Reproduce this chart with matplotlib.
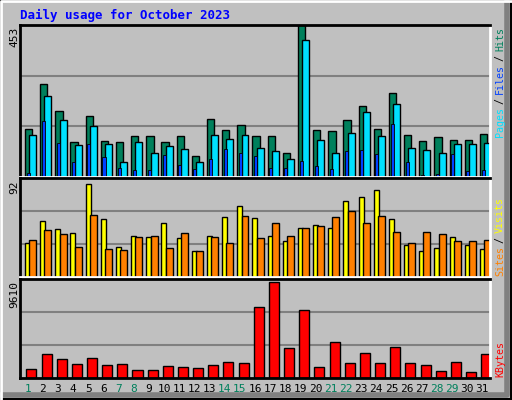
import matplotlib
matplotlib.use("Agg")
import matplotlib.pyplot as plt
import numpy as np

days = list(range(1, 32))
weekend = [1, 7, 8, 14, 15, 21, 22, 28, 29]

hits = [144, 278, 198, 105, 183, 108, 103, 123, 123, 105, 123, 64, 174, 141, 156, 123,
        123, 73, 453, 141, 138, 171, 213, 144, 249, 126, 108, 120, 111, 111, 129]
files = [126, 240, 171, 94, 153, 97, 46, 103, 73, 91, 82, 46, 126, 114, 126, 85,
         76, 55, 409, 111, 73, 132, 195, 123, 219, 85, 79, 73, 97, 97, 100]
pages = [11, 168, 100, 46, 97, 61, 28, 22, 22, 67, 37, 25, 55, 82, 73, 64,
         28, 28, 49, 34, 25, 76, 79, 70, 159, 46, 7, 10, 70, 19, 22]
visits = [32, 52, 45, 41, 86, 54, 28, 38, 37, 50, 36, 24, 38, 56, 66, 55,
          38, 33, 46, 48, 46, 71, 74, 81, 54, 30, 24, 27, 37, 30, 26]
sites = [34, 44, 40, 28, 58, 26, 25, 37, 38, 27, 41, 24, 37, 32, 57, 36,
         50, 38, 46, 47, 56, 61, 50, 57, 42, 32, 42, 40, 33, 33, 34]
kbytes = [950, 2420, 1930, 1440, 2030, 1340, 1440, 850, 850, 1240, 1140, 1050, 1340, 1640, 1540, 7130,
          9610, 3010, 6830, 1140, 3600, 1540, 2520, 1540, 3110, 1540, 1340, 750, 1640, 560, 2420]

W, H = 512, 400
BG = "#c0c0c0"
mono = "DejaVu Sans Mono"

fig = plt.figure(figsize=(W / 100, H / 100), dpi=100, facecolor=BG)

# outer frame
fa = fig.add_axes([0, 0, 1, 1])
fa.set_xlim(0, W); fa.set_ylim(H, 0); fa.axis("off")
fa.plot([1, W - 5, W - 5], [H - 5, H - 5, 1], color="#808080", lw=4)
fa.plot([1, 1, W - 1], [H - 1, 1, 1], color="white", lw=2)
fa.add_patch(plt.Rectangle((0, 0), W - 1, H - 1, fill=False, ec="black", lw=1.5))

def panel(top, bot):
    ax = fig.add_axes([20 / W, 1 - bot / H, 470 / W, (bot - top) / H])
    ax.set_facecolor(BG)
    ax.set_xlim(0, 31)
    ax.set_xticks([]); ax.set_yticks([])
    for s in ("left", "top"):
        ax.spines[s].set_color("black"); ax.spines[s].set_linewidth(2)
    for s in ("right", "bottom"):
        ax.spines[s].set_color("white"); ax.spines[s].set_linewidth(2)
    return ax

x = np.arange(31)

ax1 = panel(25, 177)
ax1.set_ylim(0, 453)
for g in (151, 302):
    ax1.axhline(g, color="#808080", lw=1.5, zorder=0)
ax1.bar(x + 0.33, hits, width=0.48, align="edge", color="#00805c", ec="black", lw=1)
ax1.bar(x + 0.61, files, width=0.46, align="edge", color="#00e0ff", ec="black", lw=1)
ax1.bar(x + 0.44, pages, width=0.2, align="edge", color="#0040ff", ec="black", lw=0.6)

ax2 = panel(178, 277)
ax2.set_ylim(0, 92)
for g in (30.7, 61.3):
    ax2.axhline(g, color="#808080", lw=1.5, zorder=0)
ax2.bar(x + 0.33, visits, width=0.33, align="edge", color="#ffff00", ec="black", lw=1)
ax2.bar(x + 0.61, sites, width=0.46, align="edge", color="#ff8000", ec="black", lw=1)

ax3 = panel(279, 378)
ax3.set_ylim(0, 9900)
for g in (3300, 6600):
    ax3.axhline(g, color="#808080", lw=1.5, zorder=0)
ax3.bar(x + 0.42, kbytes, width=0.66, align="edge", color="#ff0000", ec="black", lw=1)
ax3.spines["bottom"].set_color("black")

# texts
fa.text(20, 15, "Daily usage for October 2023", color="#0000ff", family=mono,
        weight="bold", fontsize=9, va="center")
fa.text(14, 27, "453", rotation=90, family=mono, fontsize=8, va="top", ha="center")
fa.text(14, 180, "92", rotation=90, family=mono, fontsize=8, va="top", ha="center")
fa.text(14, 281, "9610", rotation=90, family=mono, fontsize=8, va="top", ha="center")
for d in days:
    fa.text(20 + (d - 0.5) * 470 / 31, 389, str(d), family=mono, fontsize=8,
            ha="center", va="center", color="#00805c" if d in weekend else "black")

def vlabel(parts, ybottom):
    y = ybottom
    for txt, col in parts:
        fa.text(500, y, txt, rotation=90, family=mono, fontsize=7.2,
                color=col, ha="center", va="bottom")
        y -= len(txt) * 5.35

vlabel([("Pages", "#00e0ff"), (" / ", "black"), ("Files", "#0040ff"),
        (" / ", "black"), ("Hits", "#00805c")], 137)
vlabel([("Sites", "#ff8000"), (" / ", "black"), ("Visits", "#ffff00")], 276)
vlabel([("KBytes", "#ff0000")], 377)

fig.savefig("out.png", dpi=100, facecolor=BG)
